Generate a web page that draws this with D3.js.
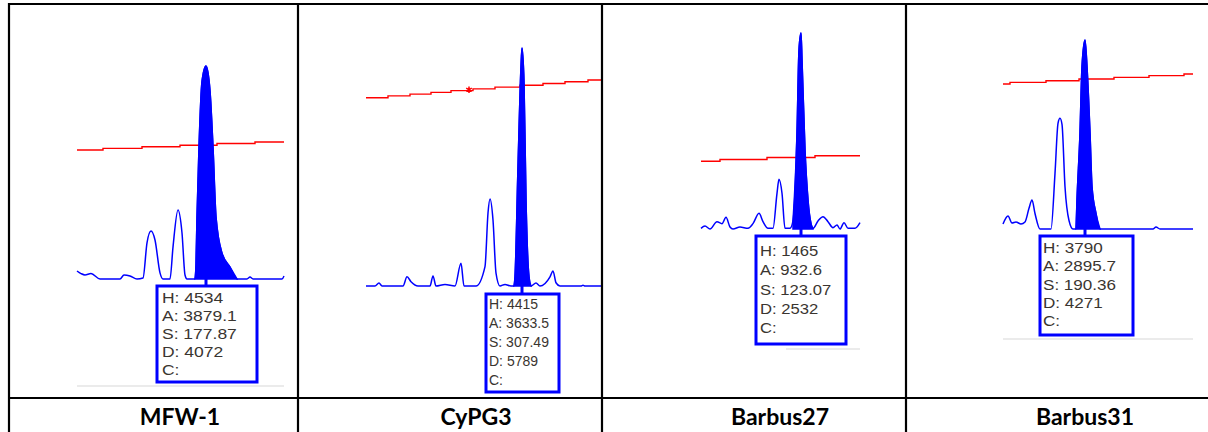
<!DOCTYPE html>
<html>
<head>
<meta charset="utf-8">
<script src="https://cdn.jsdelivr.net/npm/d3@7"></script>
<style>
  body { margin: 0; background: #fff; }
  svg { display: block; }
</style>
</head>
<body>
<div id="chart"></div>
<script>
let w = 1208, h = 432

// marker names and peak readouts
let markers = ["MFW-1", "CyPG3", "Barbus27", "Barbus31"]
let peakH = [4534, 4415, 1465, 3790]
let peakA = [3879.1, 3633.5, 932.6, 2895.7]
let peakS = [177.87, 307.49, 123.07, 190.36]
let peakD = [4072, 5789, 2532, 4271]
let infoKeys = ["H", "A", "S", "D", "C"]

// electropherogram traces: [scan, RFU]
let traceMFW1 = [[0,170],[4,115],[8,85],[14,115],[23,0],[43,0],[47,85],[53,65],[60,0],[66,20],[70,770],[74,1020],[78,830],[83,130],[86,0],[93,0],[96,680],[101,1470],[105,980],[108,85],[110,0],[118,0],[119,300],[120,1320],[122,2800],[125,4200],[129,4534],[133,4000],[136,2800],[139,1320],[145,550],[153,255],[160,0],[170,0],[173,40],[176,0],[205,0],[207,65]]
let traceCyPG3 = [[0,0],[9,0],[13,55],[16,0],[37,0],[41,170],[45,80],[52,0],[64,0],[67,185],[70,0],[79,30],[89,0],[95,420],[98,0],[110,0],[119,360],[122,1354],[124,1614],[127,1224],[130,240],[134,0],[139,30],[145,0],[148,0],[149,170],[152,2207],[155,4062],[156,4415],[158,3765],[160,1595],[163,170],[165,0],[170,55],[174,0],[184,170],[187,280],[190,60],[194,0],[215,0],[217,15],[219,0],[237,0]]
let traceBarbus27 = [[0,5],[4,22],[9,0],[16,55],[21,40],[25,87],[29,15],[32,0],[39,15],[47,5],[52,40],[58,117],[62,55],[67,5],[72,5],[76,267],[78,371],[81,267],[84,5],[89,5],[92,60],[96,717],[98,1338],[100,1465],[101,1263],[104,590],[107,217],[110,40],[112,5],[117,60],[122,92],[127,55],[132,10],[136,30],[139,0],[143,47],[147,5],[154,5],[159,47]]
let traceBarbus31 = [[0,100],[5,260],[9,120],[13,140],[18,100],[22,140],[26,414],[29,580],[32,310],[37,0],[48,0],[52,1116],[55,2120],[57,2219],[59,2100],[62,848],[66,170],[70,0],[73,0],[74,580],[77,1925],[79,3250],[82,3790],[84,3250],[87,1925],[89,848],[93,310],[97,0],[150,0],[153,40],[157,0],[190,0]]
let traces = [traceMFW1, traceCyPG3, traceBarbus27, traceBarbus31]

// sizing (bin) lines: [scan, RFU]
let binMFW1 = [[0,2746],[26,2780],[65,2814],[103,2848],[140,2883],[178,2917],[207,2917]]
let binCyPG3 = [[0,3493],[22,3526],[44,3559],[65,3592],[85,3624],[107,3657],[129,3690],[154,3723],[177,3756],[199,3788],[222,3821],[237,3821]]
let binBarbus27 = [[0,506],[19,520],[66,534],[114,548],[159,548]]
let binBarbus31 = [[0,2907],[7,2941],[43,2974],[76,3008],[111,3041],[146,3075],[181,3108],[190,3108]]
let bins = [binMFW1, binCyPG3, binBarbus27, binBarbus31]

let scanLen = [207, 237, 159, 190]
let peakScan = [129, 156, 100, 82]
let fillRange = [[118, 160], [148, 165], [92, 112], [73, 97]]
let starCyPG3 = [103, 3640]

// where each pasted screenshot sits in the table
let panels = [
	{x0: 77, x1: 284, base: 279, top: 66, box: [157, 286, 100, 96], tx: 162, ty: 303, dy: 18, sx: 1.25, grey: 386, greyX: [77, 284], label: 180},
	{x0: 366, x1: 603, base: 286, top: 48, box: [486, 294, 73, 98], tx: 489, ty: 309, dy: 19, sx: 1.0, grey: null, label: 476},
	{x0: 701, x1: 860, base: 229, top: 33, box: [756, 236, 90, 108], tx: 760, ty: 256, dy: 19.3, sx: 1.19, grey: 349, greyX: [786, 860], label: 780},
	{x0: 1003, x1: 1193, base: 229, top: 40, box: [1040, 236, 93, 99], tx: 1043, ty: 253, dy: 18.3, sx: 1.22, grey: 339, greyX: [1003, 1193], label: 1085}
]
let colLines = [9, 298, 602, 906]

let svg = d3.select("#chart").append("svg")
	.attr("width", w)
	.attr("height", h)

panels.forEach((p, i) => {
	let x = d3.scaleLinear().domain([0, scanLen[i]]).range([p.x0, p.x1])
	let y = d3.scaleLinear().domain([0, peakH[i]]).range([p.base, p.top])
	let g = svg.append("g")

	// faint grey strip under the screenshot
	if (p.grey) {
		g.append("line")
			.attr("x1", p.greyX[0]).attr("x2", p.greyX[1])
			.attr("y1", p.grey).attr("y2", p.grey)
			.attr("stroke", "#ebebeb").attr("stroke-width", 2)
	}

	// bin line
	g.append("path")
		.datum(bins[i])
		.attr("fill", "none")
		.attr("stroke", "#ff0000")
		.attr("stroke-width", 1.4)
		.attr("d", d3.line().x(d => x(d[0])).y(d => y(d[1])).curve(d3.curveStepAfter))

	// called peak, filled
	let called = traces[i].filter(d => d[0] >= fillRange[i][0] && d[0] <= fillRange[i][1])
	g.append("path")
		.datum(called)
		.attr("fill", "#0000ff")
		.attr("stroke", "#0000ff")
		.attr("stroke-width", 1.5)
		.attr("d", d3.area().x(d => x(d[0])).y0(p.base).y1(d => y(d[1])).curve(d3.curveMonotoneX))

	// trace
	g.append("path")
		.datum(traces[i])
		.attr("fill", "none")
		.attr("stroke", "#0000ff")
		.attr("stroke-width", 1.5)
		.attr("d", d3.line().x(d => x(d[0])).y(d => y(d[1])).curve(d3.curveMonotoneX))

	if (i == 1) {
		g.append("path")
			.attr("d", d3.symbol(d3.symbolAsterisk, 28)())
			.attr("transform", "translate(" + x(starCyPG3[0]) + "," + y(starCyPG3[1]) + ")")
			.attr("stroke", "#ff0000")
			.attr("stroke-width", 1.5)
			.attr("fill", "none")
	}

	// stem from peak down to the info box
	g.append("line")
		.attr("x1", x(peakScan[i])).attr("x2", x(peakScan[i]))
		.attr("y1", p.base).attr("y2", p.box[1])
		.attr("stroke", "#0000ff").attr("stroke-width", 3)

	g.append("rect")
		.attr("x", p.box[0]).attr("y", p.box[1])
		.attr("width", p.box[2]).attr("height", p.box[3])
		.attr("fill", "#fff")
		.attr("stroke", "#0000ff")
		.attr("stroke-width", 3)

	let vals = [peakH[i], peakA[i], peakS[i], peakD[i], ""]
	infoKeys.forEach((k, j) => {
		g.append("text")
			.attr("transform", "translate(" + p.tx + "," + (p.ty + j * p.dy) + ") scale(" + p.sx + ",1)")
			.attr("font-family", "Liberation Sans, Arial, sans-serif")
			.attr("font-size", 14)
			.attr("fill", "#3a3530")
			.text(k + ": " + vals[j])
	})

	svg.append("text")
		.attr("x", p.label)
		.attr("y", 425)
		.attr("text-anchor", "middle")
		.attr("font-family", "Lato, sans-serif")
		.attr("font-weight", "bold")
		.attr("font-size", 23)
		.attr("fill", "#000")
		.text(markers[i])
})

// table rules
let rule = (x1, y1, x2, y2) => svg.append("line")
	.attr("x1", x1).attr("y1", y1).attr("x2", x2).attr("y2", y2)
	.attr("stroke", "#000").attr("stroke-width", 2.2)

rule(8, 4, w, 4)
rule(8, 398, w, 398)
colLines.forEach(c => rule(c, 3, c, h))
</script>
</body>
</html>
